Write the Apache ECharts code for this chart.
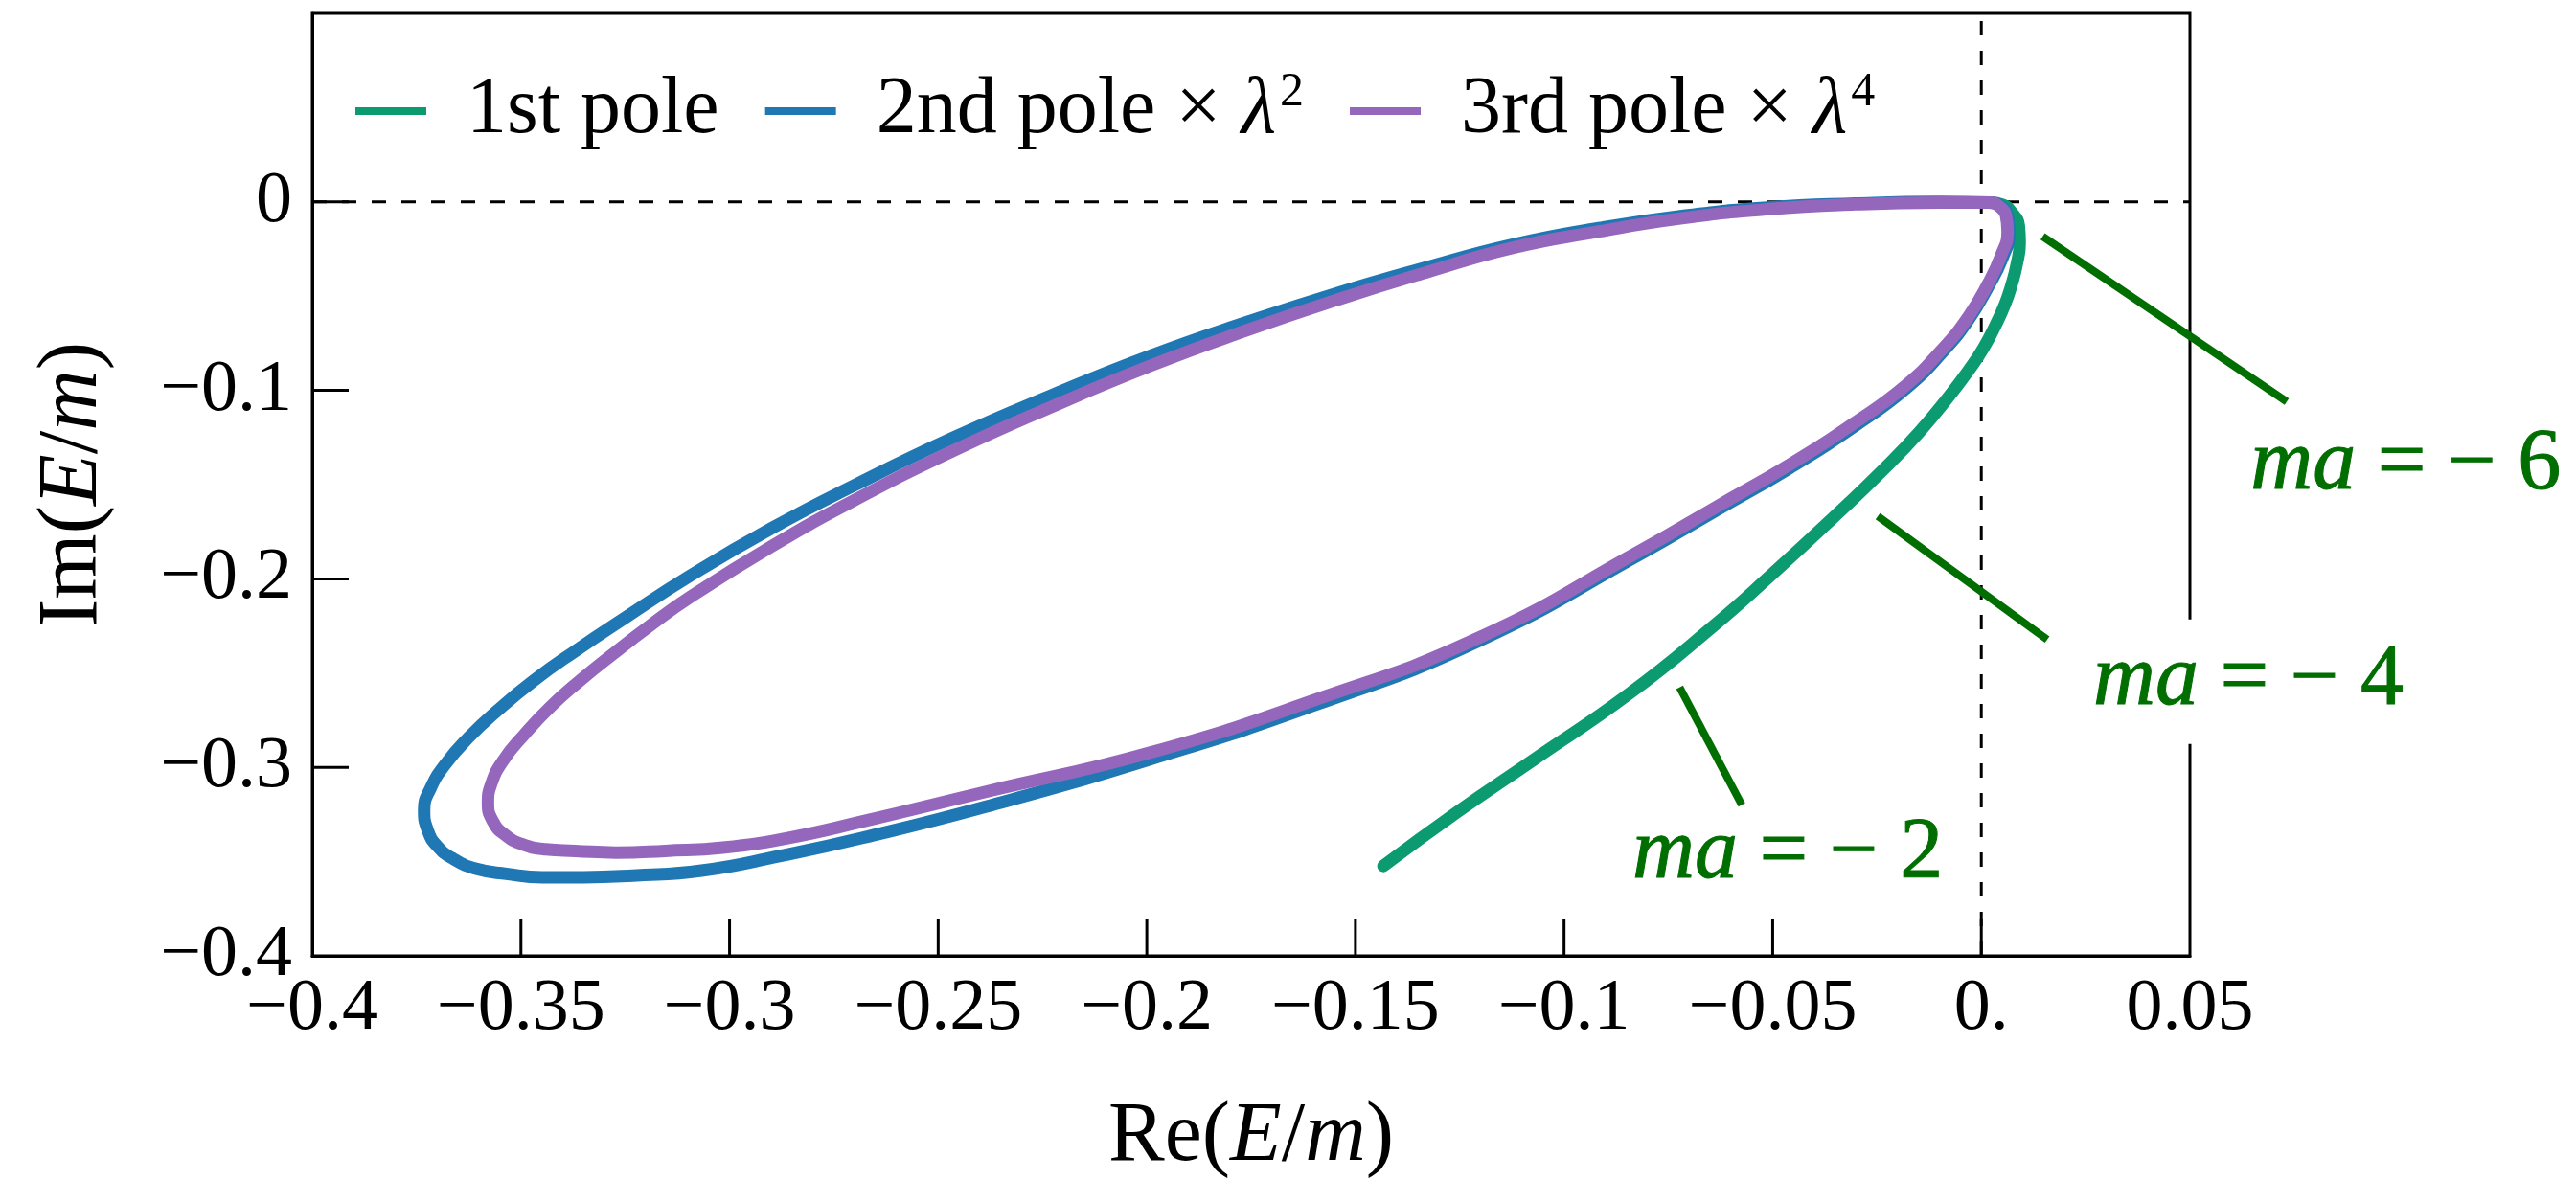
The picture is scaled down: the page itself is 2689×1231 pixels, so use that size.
<!DOCTYPE html>
<html>
<head>
<meta charset="utf-8">
<script src="https://cdn.jsdelivr.net/npm/echarts@6/dist/echarts.min.js"></script>
<style>
html, body { margin: 0; padding: 0; background: #ffffff; }
#chart { width: 2689px; height: 1231px; }
</style>
</head>
<body>
<div id="chart"></div>
<script>
// Pole positions in the complex E/m plane, traced as ma varies.
const firstPoleRe = [-0.1433, -0.1258, -0.1074, -0.0845, -0.0645, -0.0500, -0.0356, -0.0232, -0.0149, -0.0080,
  -0.0025, 0.0005, 0.0034, 0.0057, 0.0073, 0.0085, 0.0092, 0.0090, 0.0073, 0.0051, 0.0023];
const firstPoleIm = [-0.3523, -0.3240, -0.2961, -0.2611, -0.2256, -0.1972, -0.1678, -0.1414, -0.1222, -0.1039,
  -0.0877, -0.0776, -0.0654, -0.0542, -0.0436, -0.0330, -0.0218, -0.0127, -0.0056, -0.0015, -0.0005];

// second pole, rescaled by lambda^2
const secondPoleRe = [0.0024, -0.0102, -0.0303, -0.0512, -0.0717, -0.0917, -0.1122, -0.1331, -0.1535, -0.1756,
  -0.1992, -0.2228, -0.2465, -0.2701, -0.2898, -0.3094, -0.3252, -0.3370, -0.3469, -0.3555,
  -0.3626, -0.3681, -0.3717, -0.3732, -0.3724, -0.3701, -0.3661, -0.3606, -0.3535, -0.3449,
  -0.3350, -0.3232, -0.3067, -0.2878, -0.2681, -0.2386, -0.1992, -0.1598, -0.1205, -0.0811,
  -0.0634, -0.0457, -0.0299, -0.0181, -0.0094, -0.0031, 0.0016, 0.0051, 0.0067, 0.0063,
  0.0043, 0.0024];
const secondPoleIm = [-0.0004, 0.0000, -0.0009, -0.0030, -0.0074, -0.0139, -0.0226, -0.0348, -0.0478, -0.0635,
  -0.0817, -0.1026, -0.1252, -0.1504, -0.1730, -0.1983, -0.2209, -0.2383, -0.2539, -0.2696,
  -0.2843, -0.2983, -0.3113, -0.3226, -0.3330, -0.3417, -0.3487, -0.3539, -0.3565, -0.3583,
  -0.3583, -0.3574, -0.3548, -0.3470, -0.3374, -0.3209, -0.2957, -0.2670, -0.2330, -0.1861,
  -0.1635, -0.1409, -0.1183, -0.0991, -0.0800, -0.0626, -0.0452, -0.0296, -0.0165, -0.0070,
  -0.0017, -0.0004];

// third pole, rescaled by lambda^4
const thirdPoleRe = [0.0024, -0.0102, -0.0303, -0.0512, -0.0717, -0.0917, -0.1122, -0.1331, -0.1535, -0.1756,
  -0.1992, -0.2228, -0.2465, -0.2701, -0.2898, -0.3094, -0.3193, -0.3280, -0.3358, -0.3429,
  -0.3492, -0.3543, -0.3571, -0.3579, -0.3567, -0.3539, -0.3496, -0.3441, -0.3370, -0.3272,
  -0.3154, -0.3016, -0.2858, -0.2681, -0.2386, -0.1992, -0.1598, -0.1205, -0.0811, -0.0634,
  -0.0457, -0.0299, -0.0181, -0.0094, -0.0031, 0.0016, 0.0047, 0.0063, 0.0059, 0.0039,
  0.0024];
const thirdPoleIm = [-0.0004, -0.0004, -0.0013, -0.0039, -0.0087, -0.0157, -0.0243, -0.0374, -0.0513, -0.0678,
  -0.0870, -0.1087, -0.1322, -0.1583, -0.1826, -0.2096, -0.2252, -0.2400, -0.2539, -0.2678,
  -0.2826, -0.2965, -0.3087, -0.3191, -0.3287, -0.3357, -0.3409, -0.3435, -0.3443, -0.3452,
  -0.3443, -0.3426, -0.3374, -0.3287, -0.3130, -0.2922, -0.2643, -0.2313, -0.1843, -0.1617,
  -0.1391, -0.1165, -0.0974, -0.0783, -0.0609, -0.0435, -0.0287, -0.0157, -0.0070, -0.0017,
  -0.0004];

const poleNames = ['1st pole', '2nd pole', '3rd pole'];
const poleScalePowers = [null, 2, 4];

const xTickLabels = ['\u22120.4', '\u22120.35', '\u22120.3', '\u22120.25', '\u22120.2', '\u22120.15',
  '\u22120.1', '\u22120.05', '0.', '0.05'];
const yTickLabels = ['\u22120.4', '\u22120.3', '\u22120.2', '\u22120.1', '0', ''];

// ma markers along the first-pole track
const calloutMa = [-2, -4, -6];
const calloutLeaderRe = [[-0.0723, -0.0574], [-0.0248, 0.0158], [0.0147, 0.0732]];
const calloutLeaderIm = [[-0.2575, -0.3199], [-0.1668, -0.2322], [-0.0183, -0.1060]];
const calloutTextRe = [-0.0464, 0.0640, 0.1017];
const calloutTextIm = [-0.3463, -0.2545, -0.1399];

const X_MIN = -0.4, X_MAX = 0.05, X_STEP = 0.05;
const Y_MIN = -0.4, Y_MAX = 0.1, Y_STEP = 0.1;
const TICK_LEN = 38;

const SERIF = '"Liberation Serif", "DejaVu Serif", "Times New Roman", serif';
const COLORS = ['#0c9b70', '#1f77b4', '#9467bd'];
const NOTE_GREEN = '#006e00';

const zip = (re, im) => re.map((r, i) => [r, im[i]]);
const poleData = [
  zip(firstPoleRe, firstPoleIm),
  zip(secondPoleRe, secondPoleIm),
  zip(thirdPoleRe, thirdPoleIm)
];

// interior tick positions on the bottom (kind 0) and left (kind 1) frame edges
const frameTicks = [];
for (let i = 1; i < xTickLabels.length - 1; i++) frameTicks.push([0, +(X_MIN + i * X_STEP).toFixed(4)]);
for (let i = 1; i < yTickLabels.length - 1; i++) frameTicks.push([1, +(Y_MIN + i * Y_STEP).toFixed(4)]);

const chart = echarts.init(document.getElementById('chart'), null, { renderer: 'canvas', width: 2689, height: 1231 });

const series = [];

// dashed reference lines through the origin
series.push({
  type: 'line', silent: true, z: 1, symbol: 'none',
  data: [[0, Y_MIN], [0, Y_MAX]],
  lineStyle: { color: '#000', width: 3, type: [15, 16] }
});
series.push({
  type: 'line', silent: true, z: 1, symbol: 'none',
  data: [[X_MIN, 0], [X_MAX, 0]],
  lineStyle: { color: '#000', width: 3, type: [15, 16] }
});

// inward frame ticks
series.push({
  type: 'custom',
  z: 2,
  clip: false,
  silent: true,
  data: frameTicks,
  encode: { x: -1, y: -1 },
  renderItem: (params, api) => {
    const kind = api.value(0);
    const v = api.value(1);
    let x1, y1, x2, y2;
    if (kind === 0) {
      const p = api.coord([v, Y_MIN]);
      x1 = p[0]; y1 = p[1]; x2 = p[0]; y2 = p[1] - TICK_LEN;
    } else {
      const p = api.coord([X_MIN, v]);
      x1 = p[0]; y1 = p[1]; x2 = p[0] + TICK_LEN; y2 = p[1];
    }
    return {
      type: 'line',
      shape: { x1: x1, y1: y1, x2: x2, y2: y2 },
      style: { stroke: '#000', lineWidth: 3 }
    };
  }
});

poleNames.forEach((name, i) => {
  series.push({
    name: name,
    type: 'line',
    z: 3 + i,
    symbol: 'none',
    smooth: 0.5,
    color: COLORS[i],
    itemStyle: { color: COLORS[i] },
    lineStyle: { color: COLORS[i], width: 13, cap: 'round', join: 'round' },
    data: poleData[i]
  });
});

// text tags for the ma values
series.push({
  type: 'scatter',
  z: 8,
  clip: false,
  silent: true,
  symbolSize: 0,
  itemStyle: { opacity: 1 },
  data: calloutTextRe.map((r, i) => [r, calloutTextIm[i]]),
  label: {
    show: true,
    opacity: 1,
    position: 'inside',
    backgroundColor: '#ffffff',
    padding: [15, 15],
    formatter: p => '{i|ma}{r| = \u2212 ' + Math.abs(calloutMa[p.dataIndex]) + '}',
    rich: {
      i: { fontFamily: SERIF, fontStyle: 'italic', fontSize: 90, color: NOTE_GREEN, lineHeight: 100,
        textBorderColor: NOTE_GREEN, textBorderWidth: 1 },
      r: { fontFamily: SERIF, fontSize: 90, color: NOTE_GREEN, lineHeight: 100,
        textBorderColor: NOTE_GREEN, textBorderWidth: 1 }
    }
  }
});

// leader lines from the tags to the track
series.push({
  type: 'custom',
  z: 9,
  clip: false,
  silent: true,
  data: calloutMa.map((m, i) => [calloutLeaderRe[i][0], calloutLeaderIm[i][0], calloutLeaderRe[i][1], calloutLeaderIm[i][1]]),
  encode: { x: [0, 2], y: [1, 3] },
  renderItem: (params, api) => {
    const a = api.coord([api.value(0), api.value(1)]);
    const b = api.coord([api.value(2), api.value(3)]);
    return {
      type: 'line',
      shape: { x1: a[0], y1: a[1], x2: b[0], y2: b[1] },
      style: { stroke: NOTE_GREEN, lineWidth: 8, lineCap: 'butt' }
    };
  }
});

const option = {
  animation: false,
  backgroundColor: '#ffffff',
  grid: {
    left: 326, right: 403, top: 14, bottom: 233,
    show: true, borderColor: '#000', borderWidth: 3,
    backgroundColor: 'transparent',
    outerBoundsMode: 'none'
  },
  legend: {
    data: poleNames,
    left: 371,
    top: 68,
    padding: 0,
    icon: 'rect',
    itemWidth: 74,
    itemHeight: 8,
    itemGap: 48,
    selectedMode: false,
    formatter: name => {
      const k = poleNames.indexOf(name);
      const p = poleScalePowers[k];
      return p === null ? '{b|' + name + '}' : '{b|' + name + ' \u00d7 }{l|\u03bb}{s|' + p + '}';
    },
    textStyle: {
      padding: [0, 0, 0, 37],
      rich: {
        b: { fontFamily: SERIF, fontSize: 84, color: '#000', lineHeight: 96 },
        l: { fontFamily: SERIF, fontStyle: 'italic', fontSize: 84, color: '#000', lineHeight: 96 },
        s: { fontFamily: SERIF, fontSize: 50, color: '#000', verticalAlign: 'top', lineHeight: 50, padding: [4, 0, 0, 4] }
      }
    }
  },
  xAxis: {
    type: 'value',
    position: 'bottom',
    min: X_MIN, max: X_MAX, interval: X_STEP,
    splitLine: { show: false },
    axisLine: { show: true, onZero: false, lineStyle: { color: '#000', width: 3 } },
    axisTick: { show: false },
    axisLabel: {
      margin: 18,
      fontFamily: SERIF, fontSize: 76, color: '#000',
      showMinLabel: true, showMaxLabel: true,
      formatter: v => xTickLabels[Math.round((v - X_MIN) / X_STEP)]
    },
    name: 'Re({i|E}/{i|m})',
    nameLocation: 'middle',
    nameGap: 146,
    nameTextStyle: {
      fontFamily: SERIF, fontSize: 88, color: '#000',
      rich: { i: { fontFamily: SERIF, fontStyle: 'italic', fontSize: 88, color: '#000' } }
    }
  },
  yAxis: {
    type: 'value',
    position: 'left',
    min: Y_MIN, max: Y_MAX, interval: Y_STEP,
    splitLine: { show: false },
    axisLine: { show: true, onZero: false, lineStyle: { color: '#000', width: 3 } },
    axisTick: { show: false },
    axisLabel: {
      margin: 21,
      fontFamily: SERIF, fontSize: 76, color: '#000',
      showMinLabel: true, showMaxLabel: true,
      formatter: v => yTickLabels[Math.round((v - Y_MIN) / Y_STEP)]
    },
    name: 'Im({i|E}/{i|m})',
    nameLocation: 'middle',
    nameGap: 205,
    nameTextStyle: {
      fontFamily: SERIF, fontSize: 88, color: '#000',
      rich: { i: { fontFamily: SERIF, fontStyle: 'italic', fontSize: 88, color: '#000' } }
    }
  },
  series: series
};

chart.setOption(option);
</script>
</body>
</html>
